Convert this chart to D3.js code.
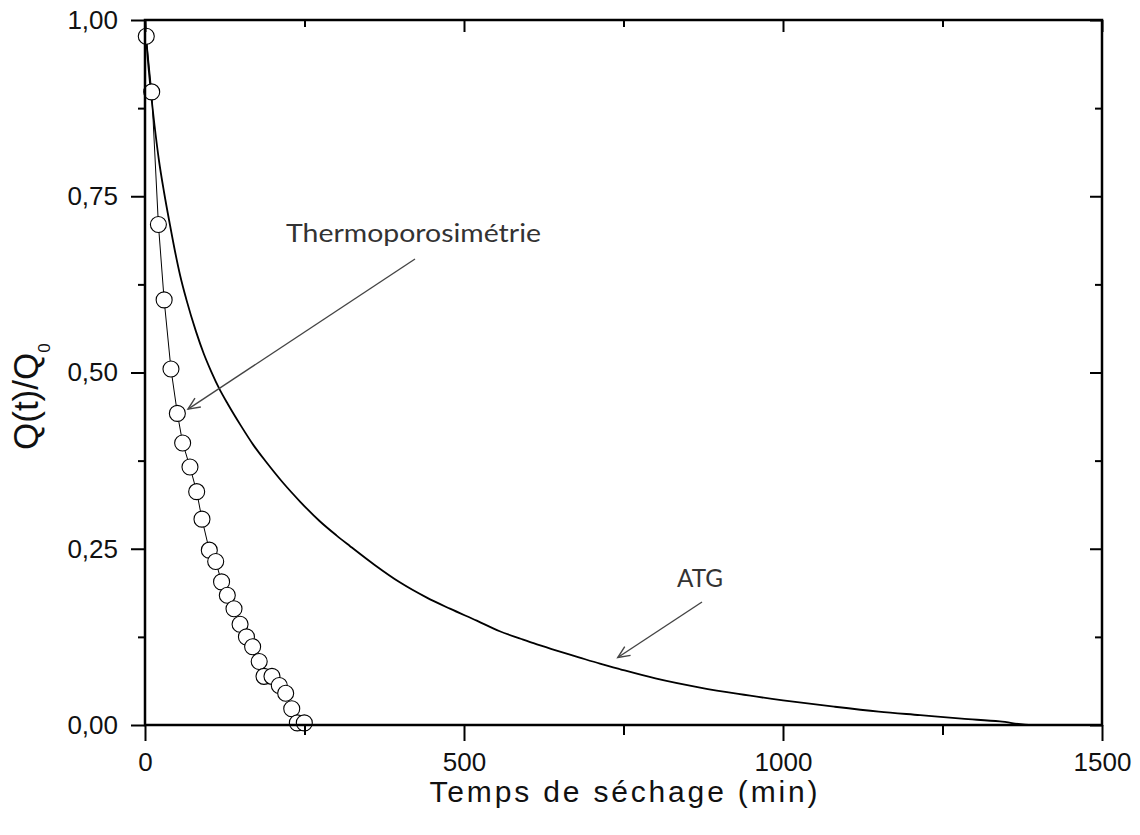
<!DOCTYPE html>
<html>
<head>
<meta charset="utf-8">
<script src="https://cdn.jsdelivr.net/npm/d3@7"></script>
<style>
  html, body { margin: 0; padding: 0; background: #fff; }
  svg { display: block; }
</style>
</head>
<body>
<svg id="chart" width="1140" height="835"></svg>
<script>
// ---- Data ----
const thermoTime = [2, 10.5, 21, 30, 40.7, 50.7, 59, 70.5, 81, 89.3, 100.8, 110.8, 120, 129, 139.5, 149, 159, 168.7, 179, 186.5, 199, 210.5, 220.5, 230, 238.8, 249.7];
const thermoQ    = [0.977, 0.898, 0.710, 0.603, 0.505, 0.442, 0.400, 0.366, 0.331, 0.292, 0.248, 0.232, 0.203, 0.184, 0.165, 0.143, 0.125, 0.111, 0.090, 0.069, 0.069, 0.056, 0.045, 0.023, 0.003, 0.003];

const atgTime = [0, 3, 9, 15, 22, 30, 39, 47, 55, 65, 80, 92, 104, 117, 130, 150, 170, 190, 215, 243, 274, 300, 321, 360, 400, 441, 478, 520, 556, 590, 609, 640, 680, 713, 745, 800, 870, 930, 1000, 1080, 1150, 1215, 1280, 1340, 1390, 1450, 1500];
const atgQ    = [1.0, 0.96, 0.90, 0.85, 0.80, 0.755, 0.71, 0.672, 0.638, 0.603, 0.558, 0.527, 0.501, 0.476, 0.455, 0.425, 0.397, 0.373, 0.345, 0.317, 0.289, 0.269, 0.254, 0.227, 0.202, 0.181, 0.165, 0.148, 0.133, 0.122, 0.116, 0.107, 0.096, 0.087, 0.079, 0.066, 0.053, 0.044, 0.035, 0.026, 0.019, 0.014, 0.009, 0.005, 0.0, 0.0, 0.0];

const xMajorTicks = [0, 500, 1000, 1500];
const xMinorTicks = [250, 750, 1250];
const yMajorTicks = [0, 0.25, 0.5, 0.75, 1.0];
const yMinorTicks = [0.125, 0.375, 0.625, 0.875];

const xTitle = "Temps de séchage (min)";
const annThermo = "Thermoporosimétrie";
const annATG = "ATG";

// ---- Layout ----
const svg = d3.select("#chart");
const mL = 145, mR = 1102, mT = 20, mB = 725;

const x = d3.scaleLinear().domain([0, 1500]).range([mL, mR]);
const y = d3.scaleLinear().domain([0, 1]).range([mB, mT]);

const fmtY = v => d3.format(".2f")(v).replace(".", ",");

const plot = svg.append("g");

// ATG curve
const line = d3.line().x(d => x(d[0])).y(d => y(d[1]));
const smooth = d3.line().x(d => x(d[0])).y(d => y(d[1])).curve(d3.curveMonotoneX);
const atgData = atgTime.map((t, i) => [t, atgQ[i]]);
plot.append("path")
  .datum(atgData)
  .attr("d", smooth)
  .attr("fill", "none")
  .attr("stroke", "#000")
  .attr("stroke-width", 1.8);

// Thermoporosimetry line + circles
const thData = thermoTime.map((t, i) => [t, thermoQ[i]]);
plot.append("path")
  .datum(thData)
  .attr("d", line)
  .attr("fill", "none")
  .attr("stroke", "#000")
  .attr("stroke-width", 1);
plot.selectAll("circle.th")
  .data(thData)
  .join("circle")
  .attr("class", "th")
  .attr("cx", d => x(d[0]))
  .attr("cy", d => y(d[1]))
  .attr("r", 8)
  .attr("fill", "#fff")
  .attr("stroke", "#000")
  .attr("stroke-width", 1.1);

// ---- Axes ----
function styleAxis(g) {
  g.select(".domain").remove();
  g.selectAll(".tick line").attr("stroke", "#000").attr("stroke-width", 2);
  g.selectAll(".tick text")
    .attr("fill", "#111")
    .style("font-family", "'Liberation Sans', Arial, sans-serif")
    .style("font-size", "26px");
}

// bottom
svg.append("g").attr("transform", `translate(0,${mB})`)
  .call(d3.axisBottom(x).tickValues(xMajorTicks).tickSize(16).tickPadding(12).tickFormat(d3.format("d")))
  .call(styleAxis);
svg.append("g").attr("transform", `translate(0,${mB})`)
  .call(d3.axisBottom(x).tickValues(xMinorTicks).tickSize(10).tickFormat(""))
  .call(styleAxis);
// top (inward)
svg.append("g").attr("transform", `translate(0,${mT})`)
  .call(d3.axisTop(x).tickValues(xMajorTicks).tickSize(-12).tickFormat(""))
  .call(styleAxis);
svg.append("g").attr("transform", `translate(0,${mT})`)
  .call(d3.axisTop(x).tickValues(xMinorTicks).tickSize(-7).tickFormat(""))
  .call(styleAxis);
// left
svg.append("g").attr("transform", `translate(${mL},0)`)
  .call(d3.axisLeft(y).tickValues(yMajorTicks).tickSize(14).tickPadding(13).tickFormat(fmtY))
  .call(styleAxis);
svg.append("g").attr("transform", `translate(${mL},0)`)
  .call(d3.axisLeft(y).tickValues(yMinorTicks).tickSize(7).tickFormat(""))
  .call(styleAxis);
// right (inward)
svg.append("g").attr("transform", `translate(${mR},0)`)
  .call(d3.axisRight(y).tickValues(yMajorTicks).tickSize(-12).tickFormat(""))
  .call(styleAxis);
svg.append("g").attr("transform", `translate(${mR},0)`)
  .call(d3.axisRight(y).tickValues(yMinorTicks).tickSize(-7).tickFormat(""))
  .call(styleAxis);

// frame
svg.append("rect")
  .attr("x", mL).attr("y", mT)
  .attr("width", mR - mL).attr("height", mB - mT)
  .attr("fill", "none").attr("stroke", "#000").attr("stroke-width", 2.5);

// ---- Titles ----
svg.append("text")
  .attr("x", (mL + mR) / 2).attr("y", 802)
  .attr("text-anchor", "middle")
  .attr("fill", "#111")
  .attr("textLength", 388).attr("lengthAdjust", "spacing")
  .style("font-family", "'Liberation Sans', Arial, sans-serif")
  .style("font-size", "30px")
  .text(xTitle);

const yt = svg.append("text")
  .attr("transform", "translate(38,450) rotate(-90)")
  .attr("fill", "#111")
  .style("font-family", "'Liberation Sans', Arial, sans-serif")
  .style("font-size", "35px");
yt.append("tspan").text("Q(t)/Q");
yt.append("tspan").attr("dy", 12).style("font-size", "17px").text("0");

// ---- Annotations ----
const annFont = "Lato, 'Open Sans', sans-serif";
svg.append("text")
  .attr("x", 286).attr("y", 242)
  .attr("fill", "#333")
  .attr("textLength", 255).attr("lengthAdjust", "spacingAndGlyphs")
  .style("font-family", annFont).style("font-size", "25px")
  .text(annThermo);
svg.append("text")
  .attr("x", 677).attr("y", 587)
  .attr("fill", "#333")
  .attr("textLength", 46).attr("lengthAdjust", "spacingAndGlyphs")
  .style("font-family", annFont).style("font-size", "25px")
  .text(annATG);

function arrow(x1, y1, x2, y2) {
  const g = svg.append("g").attr("stroke", "#444").attr("stroke-width", 1.4).attr("fill", "none");
  g.append("line").attr("x1", x1).attr("y1", y1).attr("x2", x2).attr("y2", y2);
  const ang = Math.atan2(y1 - y2, x1 - x2);
  const L = 13, a = 0.42;
  const p1 = [x2 + L * Math.cos(ang + a), y2 + L * Math.sin(ang + a)];
  const p2 = [x2 + L * Math.cos(ang - a), y2 + L * Math.sin(ang - a)];
  g.append("path").attr("d", `M${p1[0]},${p1[1]}L${x2},${y2}L${p2[0]},${p2[1]}`);
}
// arrows pointing at curves (tips anchored in data coordinates)
arrow(415, 259, x(67.4), y(0.448));
arrow(702, 602, x(741), y(0.0957));
</script>
</body>
</html>
